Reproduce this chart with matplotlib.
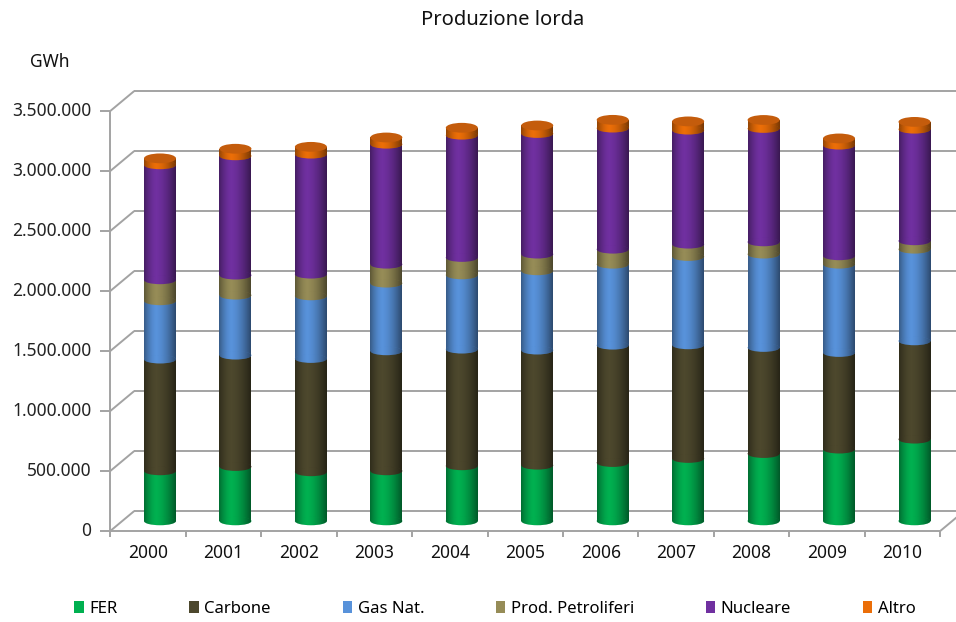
import numpy as np
import matplotlib.pyplot as plt
from matplotlib.patches import Ellipse, Patch

plt.rcParams['font.family'] = ['Noto Sans', 'DejaVu Sans']

# Dati (GWh)
anni = ['2000', '2001', '2002', '2003', '2004', '2005', '2006', '2007', '2008', '2009', '2010']
fer = [417000, 453000, 409000, 417000, 459000, 464000, 486000, 520000, 561000, 598000, 681000]
carbone = [931000, 928000, 944000, 1000000, 972000, 959000, 978000, 947000, 884000, 805000, 819000]
gas_nat = [486000, 500000, 522000, 564000, 619000, 661000, 675000, 736000, 778000, 736000, 764000]
prod_petroliferi = [175000, 167000, 181000, 158000, 145000, 139000, 125000, 103000, 102000, 70000, 70000]
nucleare = [958000, 994000, 1000000, 1000000, 1019000, 1005000, 1009000, 950000, 945000, 922000, 930000]
altro = [55000, 60000, 62000, 57000, 63000, 68000, 70000, 74000, 72000, 57000, 62000]

serie = [('FER', fer, '#00B050'),
         ('Carbone', carbone, '#4D482D'),
         ('Gas Nat.', gas_nat, '#5892DA'),
         ('Prod. Petroliferi', prod_petroliferi, '#968C57'),
         ('Nucleare', nucleare, '#7030A0'),
         ('Altro', altro, '#EB6E08')]
tick_vals = np.arange(0, 3500001, 500000)

# geometria in pixel (figura 956x622)
W_PX, H_PX = 956, 622
CAT_PX = 75.45        # larghezza di una categoria
PX_M = 120.0          # pixel per 1.000.000 GWh
X0_PX, Y0_PX = 160, 521
DX = 12 / CAT_PX      # profondita' 3D in unita' dati
DY = 10 / PX_M * 1e6
W = 32 / CAT_PX       # larghezza cilindro
EH = 8.5 / PX_M * 1e6  # altezza ellisse

fig = plt.figure(figsize=(W_PX / 100, H_PX / 100), dpi=100)
left, right, top, bottom = 110, 940, 90, 531
ax = fig.add_axes([left / W_PX, 1 - bottom / H_PX, (right - left) / W_PX, (bottom - top) / H_PX])
xlim = ((left - X0_PX) / CAT_PX, (right - X0_PX) / CAT_PX)
ylim = ((Y0_PX - bottom) / PX_M * 1e6, (Y0_PX - top) / PX_M * 1e6)
ax.axis('off')

gc = '#A3A3A3'
xl, xr = -0.5, len(anni) - 0.5
kw = dict(color=gc, lw=1.4, clip_on=False, zorder=1, solid_capstyle='butt')
for v in tick_vals:
    ax.plot([xl + DX, xr + DX + 0.3], [v + DY, v + DY], **kw)          # parete di fondo
    ax.plot([xl - DX, xl + DX], [v - DY, v + DY], **kw)                # parete laterale
    ax.plot([xl - DX - 10 / CAT_PX, xl - DX], [v - DY, v - DY], **kw)  # tacca
    ax.text(xl - DX - 19 / CAT_PX, v - DY, f'{v:,}'.replace(',', '.'),
            ha='right', va='center', fontsize=12.5, color='#222222')
ax.plot([xl - DX, xl - DX], [-DY, tick_vals[-1] - DY], **kw)
ax.plot([xl - DX, xr - DX], [-DY, -DY], **kw)
ax.plot([xr - DX, xr + DX], [-DY, DY], **kw)
for k in range(len(anni) + 1):
    ax.plot([k - 0.5 - DX] * 2, [-DY, -DY - 6 / PX_M * 1e6], **kw)
for i, a in enumerate(anni):
    ax.text(i - DX, -DY - 22 / PX_M * 1e6, a, ha='center', va='center', fontsize=12.5, color='#111111')

# sfumatura cilindrica
t = np.linspace(0, 1, 80)
alpha = np.where(t < 0.38, 0.38 * ((0.38 - t) / 0.38) ** 1.6, 0.5 * ((t - 0.38) / 0.62) ** 1.6)
grad = np.zeros((1, len(t), 4))
grad[..., 3] = alpha


def shade(patch, x, y0, y1, z):
    im = ax.imshow(grad, extent=[x - W / 2, x + W / 2, y0, y1], aspect='auto',
                   interpolation='bilinear', zorder=z)
    im.set_clip_path(patch)


x = np.arange(len(anni))
base = np.zeros(len(anni))
for j, (nome, vals, col) in enumerate(serie):
    vals = np.array(vals, dtype=float)
    bars = ax.bar(x, vals, bottom=base, width=W, color=col, lw=0, zorder=2)
    for i, b in enumerate(bars):
        shade(b, x[i], base[i], base[i] + vals[i], 2.05)
        e = Ellipse((x[i], base[i]), W, EH, facecolor=col, lw=0, zorder=3 + j * 0.1)
        ax.add_patch(e)
        shade(e, x[i], base[i] - EH, base[i] + EH, 3.05 + j * 0.1)
    base = base + vals

for i in x:
    ax.add_patch(Ellipse((i, base[i]), W, EH * 1.15, facecolor='#C45C0C', lw=0, zorder=5))

ax.set_xlim(xlim)
ax.set_ylim(ylim)

fig.text(503 / W_PX, 1 - 20 / H_PX, 'Produzione lorda', ha='center', va='center', fontsize=14.5, color='#111111')
fig.text(30 / W_PX, 1 - 62 / H_PX, 'GWh', ha='left', va='center', fontsize=12.5, color='#111111')

handles = [Patch(facecolor=c, label=n) for n, _, c in serie]
fig.legend(handles=handles, loc='center', bbox_to_anchor=(495 / W_PX, 1 - 609 / H_PX), ncol=6,
           frameon=False, fontsize=12, handlelength=0.55, handleheight=0.75, handletextpad=0.35,
           columnspacing=4.3)

fig.savefig('out.png', dpi=100)
